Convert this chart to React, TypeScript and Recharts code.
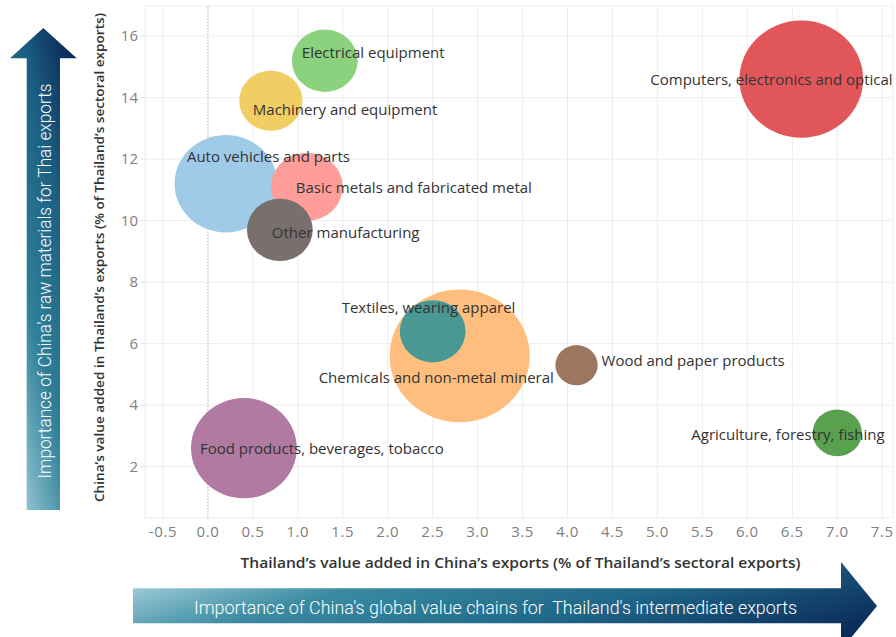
import React from 'react'
import {
  CartesianGrid,
  ReferenceLine,
  Scatter,
  ScatterChart,
  XAxis,
  YAxis,
  ZAxis,
} from 'recharts'

// one entry per sector, same order in every array
const sectors = [
  'Chemicals and non-metal mineral',
  'Computers, electronics and optical',
  'Food products, beverages, tobacco',
  'Auto vehicles and parts',
  'Basic metals and fabricated metal',
  'Electrical equipment',
  'Other manufacturing',
  'Textiles, wearing apparel',
  'Machinery and equipment',
  'Agriculture, forestry, fishing',
  'Wood and paper products',
]
// Thailand's value added in China's exports (% of sectoral exports)
const thaiInChina = [2.8, 6.6, 0.4, 0.2, 1.1, 1.3, 0.8, 2.5, 0.7, 7.0, 4.1]
// China's value added in Thailand's exports (% of sectoral exports)
const chinaInThai = [5.6, 14.6, 2.6, 11.2, 11.1, 15.2, 9.7, 6.4, 13.9, 3.1, 5.3]
// bubble size
const bubbleSize = [186, 145, 106, 100, 49, 41, 41, 41, 38, 23, 17]

const xTicks = [-0.5, 0, 0.5, 1, 1.5, 2, 2.5, 3, 3.5, 4, 4.5, 5, 5.5, 6, 6.5, 7, 7.5]
const yTicks = [2, 4, 6, 8, 10, 12, 14, 16]

const colors: Record<string, string> = {
  'Chemicals and non-metal mineral': '#ffbe7d',
  'Computers, electronics and optical': '#e15759',
  'Food products, beverages, tobacco': '#b07aa1',
  'Auto vehicles and parts': '#a0cbe8',
  'Basic metals and fabricated metal': '#ff9d9a',
  'Electrical equipment': '#8cd17d',
  'Other manufacturing': '#79706e',
  'Textiles, wearing apparel': '#499894',
  'Machinery and equipment': '#f1ce63',
  'Agriculture, forestry, fishing': '#59a14f',
  'Wood and paper products': '#9d7660',
}

// label start offset from bubble centre [dx, dy]
const labelPos: Record<string, [number, number]> = {
  'Chemicals and non-metal mineral': [-141, 21],
  'Computers, electronics and optical': [-151, 0],
  'Food products, beverages, tobacco': [-44, 0],
  'Auto vehicles and parts': [-39, -28],
  'Basic metals and fabricated metal': [-11, 0],
  'Electrical equipment': [-23, -9],
  'Other manufacturing': [-8, 2],
  'Textiles, wearing apparel': [-91, -24],
  'Machinery and equipment': [-18, 8],
  'Agriculture, forestry, fishing': [-146, 1],
  'Wood and paper products': [25, -5],
}

const bubbles = sectors.map((name, i) => ({
  name,
  x: thaiInChina[i],
  y: chinaInThai[i],
  z: bubbleSize[i],
}))

const font = "'Open Sans', sans-serif"
const arrowFont = "Roboto, 'Open Sans', sans-serif"

const Bubble = (props: any) => {
  const { cx, cy, payload } = props
  const r = props.width ? props.width / 2 : Math.sqrt(props.size / Math.PI)
  return <ellipse cx={cx} cy={cy} rx={r * 1.027} ry={r * 0.973} fill={colors[payload.name]} />
}

const BubbleLabel = (props: any) => {
  const { cx, cy, payload } = props
  const [dx, dy] = labelPos[payload.name]
  return (
    <text
      x={cx + dx}
      y={cy + dy}
      dominantBaseline="central"
      fontSize={15}
      fontFamily={font}
      fill="#333333"
    >
      {payload.name}
    </text>
  )
}

const App = () => {
  return (
    <div style={{ position: 'absolute', left: 0, top: 0, width: 896, height: 637, background: '#fff' }}>
      <ScatterChart width={896} height={637} margin={{ top: 6, right: 3, bottom: 0, left: 0 }}>
        <CartesianGrid stroke="#ededed" />
        <XAxis
          type="number"
          dataKey="x"
          domain={[-0.7, 7.62]}
          ticks={xTicks}
          allowDataOverflow
          tickFormatter={(v: number) => v.toFixed(1)}
          axisLine={false}
          tickLine={false}
          height={119}
          tick={{ fill: '#808080', fontSize: 15, fontFamily: font, letterSpacing: 0.6 }}
        />
        <YAxis
          type="number"
          dataKey="y"
          domain={[0.33, 16.98]}
          ticks={yTicks}
          allowDataOverflow
          axisLine={false}
          tickLine={{ stroke: '#e3e3e3' }}
          tickSize={5}
          width={145}
          tick={{ fill: '#808080', fontSize: 15, fontFamily: font }}
        />
        <ZAxis type="number" dataKey="z" domain={[0, 200]} range={[0, 15708]} />
        <ReferenceLine x={0} stroke="#b0b0b0" strokeDasharray="1 2" />
        <Scatter data={bubbles} shape={Bubble} isAnimationActive={false} />
        <Scatter data={bubbles} shape={BubbleLabel} isAnimationActive={false} />
      </ScatterChart>

      <svg
        width={896}
        height={637}
        style={{ position: 'absolute', left: 0, top: 0, pointerEvents: 'none' }}
      >
        <defs>
          <linearGradient id="upArrow" x1="0.2" y1="1" x2="0.8" y2="0">
            <stop offset="0%" stopColor="#96c7d4" />
            <stop offset="35%" stopColor="#2f8099" />
            <stop offset="70%" stopColor="#1c5f82" />
            <stop offset="100%" stopColor="#0b2b5a" />
          </linearGradient>
          <linearGradient id="rightArrow" x1="0" y1="0.3" x2="1" y2="0.7">
            <stop offset="0%" stopColor="#9ac9d6" />
            <stop offset="25%" stopColor="#3a8ba2" />
            <stop offset="60%" stopColor="#1f6888" />
            <stop offset="100%" stopColor="#0b2b5a" />
          </linearGradient>
        </defs>

        <polygon
          points="26.7,510 26.7,58.3 10,58.3 43.3,28 76.7,58.3 60,58.3 60,510"
          fill="url(#upArrow)"
        />
        <text
          transform="translate(51,281) rotate(-90)"
          textAnchor="middle"
          fontSize={19}
          fontWeight={300}
          fontFamily={arrowFont}
          fill="#ffffff"
          textLength={395}
          lengthAdjust="spacingAndGlyphs"
          style={{ whiteSpace: 'pre' }}
        >
          Importance of China's raw materials for Thai exports
        </text>

        <polygon
          points="133,588.3 841,588.3 841,562 877,606 841,650 841,623.3 133,623.3"
          fill="url(#rightArrow)"
        />
        <text
          x={495.5}
          y={614}
          textAnchor="middle"
          fontSize={19}
          fontWeight={300}
          fontFamily={arrowFont}
          fill="#ffffff"
          textLength={603}
          lengthAdjust="spacingAndGlyphs"
          style={{ whiteSpace: 'pre' }}
        >
          Importance of China's global value chains for  Thailand's intermediate exports
        </text>

        <text
          x={520.5}
          y={562.5}
          textAnchor="middle"
          dominantBaseline="central"
          fontSize={14}
          fontWeight={600}
          fontFamily={font}
          fill="#333333"
          textLength={560}
          lengthAdjust="spacingAndGlyphs"
        >
          Thailand’s value added in China’s exports (% of Thailand’s sectoral exports)
        </text>
        <text
          transform="translate(98.5,257.5) rotate(-90)"
          textAnchor="middle"
          dominantBaseline="central"
          fontSize={13}
          fontWeight={600}
          fontFamily={font}
          fill="#333333"
          textLength={489}
          lengthAdjust="spacingAndGlyphs"
        >
          China’s value added in Thailand’s exports (% of Thailand’s sectoral exports)
        </text>
      </svg>
    </div>
  )
}

export default App
